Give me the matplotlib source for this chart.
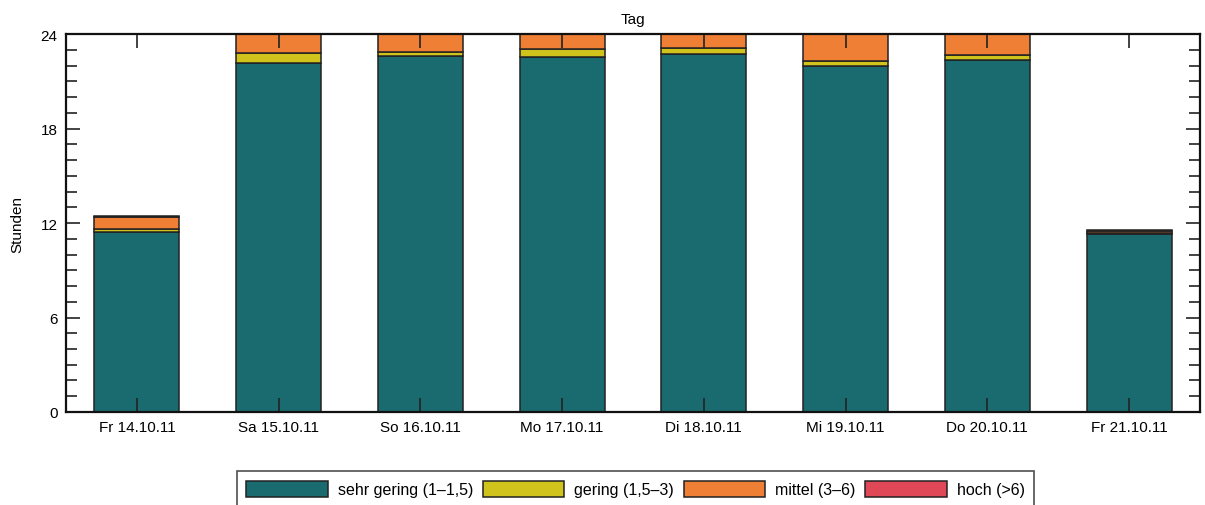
import matplotlib
matplotlib.use("Agg")
import matplotlib.pyplot as plt
import numpy as np
from matplotlib.ticker import MultipleLocator

plt.rcParams["font.family"] = ["Liberation Sans", "DejaVu Sans"]

days = ["Fr 14.10.11", "Sa 15.10.11", "So 16.10.11", "Mo 17.10.11",
        "Di 18.10.11", "Mi 19.10.11", "Do 20.10.11", "Fr 21.10.11"]
sehr_gering = [11.43, 22.16, 22.60, 22.54, 22.73, 21.95, 22.37, 11.30]
gering = [0.22, 0.64, 0.26, 0.51, 0.37, 0.32, 0.32, 0.05]
mittel = [0.70, 1.20, 1.14, 0.95, 0.90, 1.73, 1.31, 0.15]
hoch = [0.08, 0.0, 0.0, 0.0, 0.0, 0.0, 0.0, 0.05]

series = [
    ("sehr gering (1\u20131,5)", sehr_gering, "#1a6b70"),
    ("gering (1,5\u20133)", gering, "#d0c41c"),
    ("mittel (3\u20136)", mittel, "#f07f36"),
    ("hoch (>6)", hoch, "#e04858"),
]

fig = plt.figure(figsize=(12.05, 5.06), dpi=100)
ax = fig.add_axes([0.0548, 0.1838, 0.941, 0.747])
ax.set_axisbelow(False)

x = np.arange(len(days))
bottom = np.zeros(len(days))
for label, vals, color in series:
    ax.bar(x, vals, width=0.6, bottom=bottom, color=color, edgecolor="#222222",
           linewidth=1.1, label=label, zorder=2)
    bottom += np.array(vals)

ax.set_xlim(-0.5, len(days) - 0.5)
ax.set_ylim(0, 24)
ax.set_xticks(x)
ax.set_xticklabels(days, fontsize=11)
ax.yaxis.set_major_locator(MultipleLocator(6))
ax.yaxis.set_minor_locator(MultipleLocator(1))
ax.tick_params(axis="y", which="major", direction="in", length=10, width=1.2,
               right=True, labelsize=11, pad=6, color="#222222")
ax.tick_params(axis="y", which="minor", direction="in", length=8, width=1.2,
               right=True, color="#222222")
ax.tick_params(axis="x", direction="in", length=10, width=1.2, top=True,
               labelsize=11, pad=6, color="#222222")
ax.set_ylabel("Stunden", fontsize=11, labelpad=12)
ax.set_title("Tag", fontsize=11, pad=8)
for sp in ax.spines.values():
    sp.set_linewidth(1.6)
    sp.set_color("#111111")
    sp.set_zorder(3)

leg = fig.legend(loc="upper center", bbox_to_anchor=(0.5274, 0.0672), ncol=4,
                 fontsize=11.5, frameon=True, fancybox=False, handlelength=5.1,
                 handleheight=1.25, columnspacing=0.62, handletextpad=0.62,
                 borderpad=0.6, borderaxespad=0)
leg.get_frame().set_edgecolor("#222222")
leg.get_frame().set_linewidth(1.2)

fig.savefig("out.png", dpi=100)
